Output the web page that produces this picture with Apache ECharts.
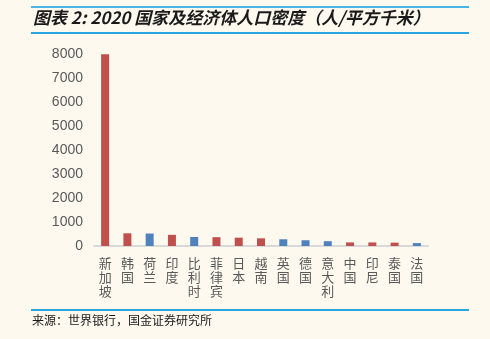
<!DOCTYPE html>
<html><head><meta charset="utf-8">
<script src="https://cdn.jsdelivr.net/npm/echarts@6/dist/echarts.min.js"></script>
<style>html,body{margin:0;padding:0;background:#fdf9ef;}#c{width:490px;height:339px;}</style>
</head><body><div id="c"></div>
<script>
const categories = ['新加坡','韩国','荷兰','印度','比利时','菲律宾','日本','越南','英国','德国','意大利','中国','印尼','泰国','法国'];
const values = [7990, 530, 520, 465, 375, 368, 347, 320, 280, 240, 200, 150, 148, 140, 122];
const europe = [false,false,true,false,true,false,false,false,true,true,true,false,false,false,true];
const RED = '#c0504d', BLUE = '#4f81bd';
const chart = echarts.init(document.getElementById('c'));
chart.setOption({
  backgroundColor: '#fdf9ef',
  animation: false,
  grid: {left: 94, right: 62, top: 54, bottom: 93},
  xAxis: {
    type: 'category', data: categories,
    axisLine: {lineStyle: {color: '#d9d9d9', width: 2}},
    axisTick: {show: false},
    axisLabel: {
      interval: 0, color: '#595959', fontSize: 13, lineHeight: 14, margin: 10,
      fontFamily: 'Noto Sans CJK SC',
      formatter: v => v.split('').join('\n')
    }
  },
  yAxis: {
    type: 'value', min: 0, max: 8000, interval: 1000,
    axisLine: {show: false}, axisTick: {show: false}, splitLine: {show: false},
    axisLabel: {color: '#595959', fontSize: 14, fontFamily: 'Liberation Sans', margin: 11, formatter: v => String(v)}
  },
  series: [{
    type: 'bar', barWidth: 8, clip: false,
    data: values.map((v, i) => ({value: v, itemStyle: {color: europe[i] ? BLUE : RED}}))
  }],
  graphic: [
    {type: 'rect', shape: {x: 31, y: 6, width: 438, height: 2}, style: {fill: '#4bb4e6'}},
    {type: 'rect', shape: {x: 31, y: 32, width: 438, height: 2}, style: {fill: '#29a6df'}},
    {type: 'text', left: 33, top: 9, style: {text: '图表 2: 2020 国家及经济体人口密度（人/平方千米）', fill: '#1a1a1a', font: 'italic bold 17px "Noto Sans CJK SC"'}},
    {type: 'rect', shape: {x: 31, y: 309, width: 438, height: 2}, style: {fill: '#29a6df'}},
    {type: 'text', left: 32, top: 314, style: {text: '来源：世界银行，国金证券研究所', fill: '#1a1a1a', font: '12px "Noto Sans CJK SC"'}}
  ]
});
</script></body></html>
